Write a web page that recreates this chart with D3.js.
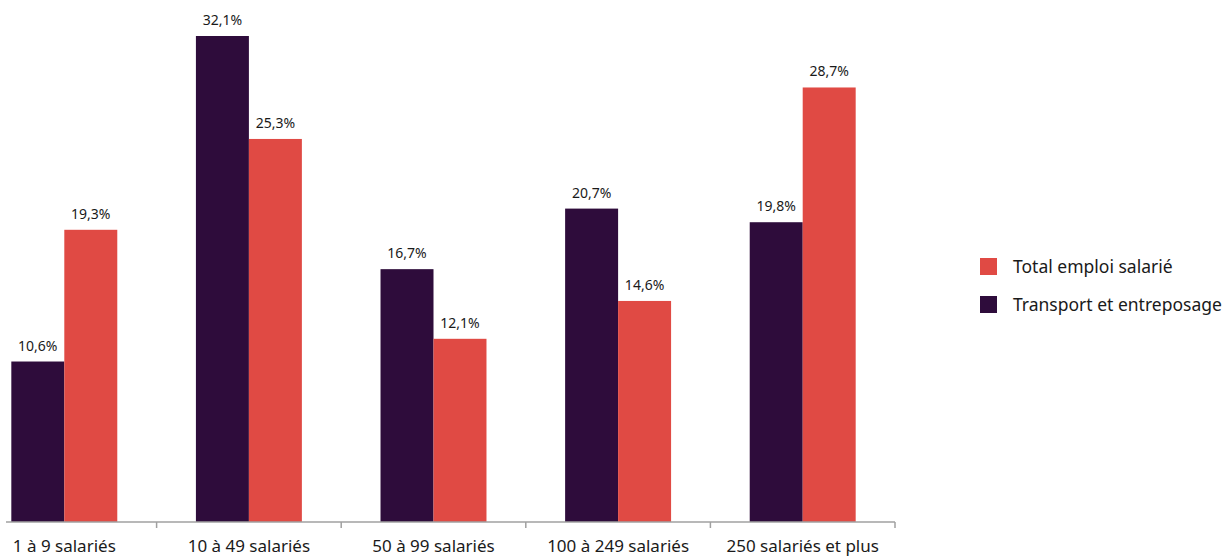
<!DOCTYPE html>
<html>
<head>
<meta charset="utf-8">
<script src="https://cdn.jsdelivr.net/npm/d3@7"></script>
<style>
  html, body { margin: 0; padding: 0; background: #fff; }
  svg { display: block; font-family: "Noto Sans", "Open Sans", sans-serif; }
</style>
</head>
<body>
<svg id="chart" width="1229" height="557"></svg>
<script>
// Part of salaried employment by establishment size
const categories = ["1 à 9 salariés", "10 à 49 salariés", "50 à 99 salariés", "100 à 249 salariés", "250 salariés et plus"];
const seriesNames = ["Transport et entreposage", "Total emploi salarié"];
const transport = [10.6, 32.1, 16.7, 20.7, 19.8];
const total = [19.3, 25.3, 12.1, 14.6, 28.7];
const colors = ["#2e0c3b", "#e04a44"];
const legendOrder = ["Total emploi salarié", "Transport et entreposage"];

const svg = d3.select("#chart");
const baseY = 522;

const x = d3.scaleBand().domain(categories).range([-28, 895]).paddingInner(0.426).paddingOuter(0.213);
const xs = d3.scaleBand().domain(seriesNames).range([0, x.bandwidth()]);
const y = d3.scaleLinear().domain([0, 32.1]).range([baseY, 36]);
const color = d3.scaleOrdinal().domain(seriesNames).range(colors);

const rows = categories.map((c, i) => ({ cat: c, vals: [
  { name: seriesNames[0], v: transport[i] },
  { name: seriesNames[1], v: total[i] }
]}));

const fmt = v => d3.format(".1f")(v).replace(".", ",") + "%";

const groups = svg.append("g").selectAll("g").data(rows).join("g")
  .attr("transform", d => `translate(${x(d.cat)},0)`);

groups.selectAll("rect").data(d => d.vals).join("rect")
  .attr("x", d => xs(d.name))
  .attr("y", d => y(d.v))
  .attr("width", xs.bandwidth())
  .attr("height", d => baseY - y(d.v))
  .attr("fill", d => color(d.name));

groups.selectAll("text").data(d => d.vals).join("text")
  .attr("x", d => xs(d.name) + xs.bandwidth() / 2)
  .attr("y", d => y(d.v) - 11)
  .attr("text-anchor", "middle")
  .attr("font-size", 14)
  .attr("fill", "#1a1a1a")
  .text(d => fmt(d.v));

// Category axis
const axisG = svg.append("g").attr("transform", `translate(0,${baseY})`);
axisG.append("line").attr("x1", 6).attr("x2", 895).attr("stroke", "#a0a0a0").attr("stroke-width", 1.5);
const boundaries = categories.map(c => x(c) + x.bandwidth() + x.step() * x.paddingInner() / 2);
axisG.selectAll("line.tick").data(boundaries).join("line").attr("class", "tick")
  .attr("x1", d => d).attr("x2", d => d).attr("y1", 0).attr("y2", 6)
  .attr("stroke", "#a0a0a0").attr("stroke-width", 1.5);
axisG.selectAll("text").data(categories).join("text")
  .attr("x", d => x(d) + x.bandwidth() / 2)
  .attr("y", 30)
  .attr("text-anchor", "middle")
  .attr("font-size", 17)
  .attr("fill", "#1a1a1a")
  .text(d => d);

// Legend
const legend = svg.append("g").attr("transform", "translate(980,258)");
const items = legend.selectAll("g").data(legendOrder).join("g")
  .attr("transform", (d, i) => `translate(0,${i * 38})`);
items.append("rect").attr("width", 17).attr("height", 17).attr("fill", d => color(d));
items.append("text").attr("x", 33).attr("y", 15).attr("font-size", 17.5).attr("fill", "#1a1a1a").text(d => d);
</script>
</body>
</html>
